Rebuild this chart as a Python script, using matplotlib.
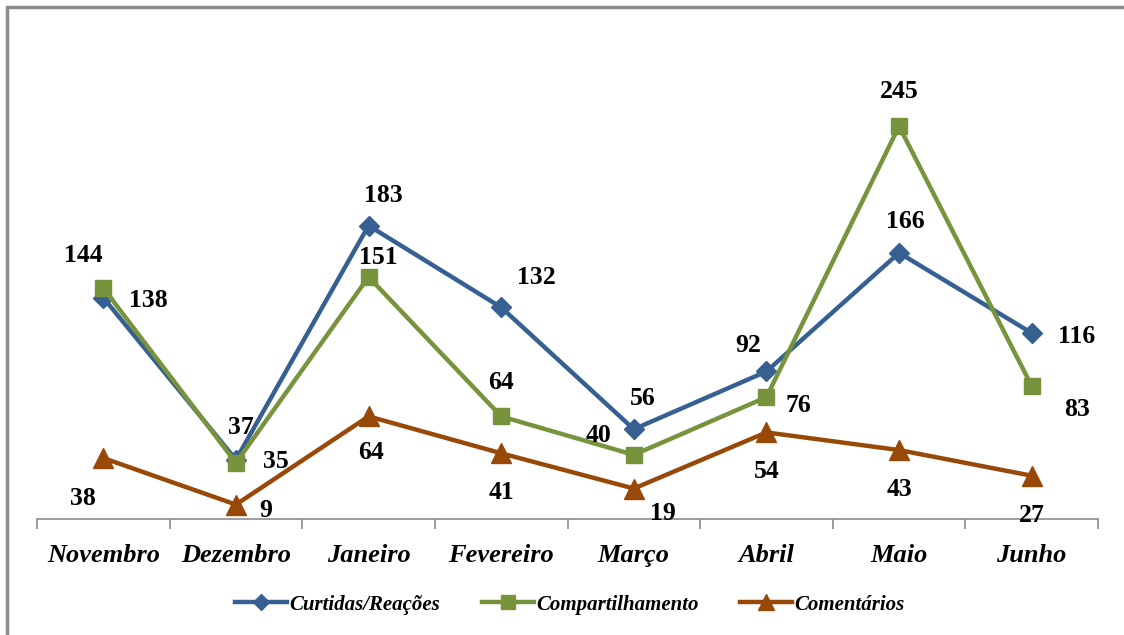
import matplotlib
matplotlib.use("Agg")
import matplotlib.pyplot as plt
from matplotlib.patches import Rectangle

# Dados
meses = ["Novembro", "Dezembro", "Janeiro", "Fevereiro", "Março", "Abril", "Maio", "Junho"]
curtidas = [138, 37, 183, 132, 56, 92, 166, 116]
compartilhamento = [144, 35, 151, 64, 40, 76, 245, 83]
comentarios = [38, 9, 64, 41, 19, 54, 43, 27]

# deslocamento dos rótulos (pixels)
off_curt = [(45, -3), (5, 32), (15, 30), (35, 30), (9, 31), (-18, 26), (6, 31), (45, -3)]
off_comp = [(-20, 33), (40, 1), (10, 19), (0, 34), (-35, 19), (32, -8), (0, 35), (45, -24)]
off_coment = [(-20, -40), (30, -6), (2, -36), (0, -39), (29, -25), (0, -39), (0, -39), (0, -40)]

fig = plt.figure(figsize=(11.24, 6.35), dpi=100)
ax = fig.add_axes([37 / 1124, 116 / 635, 1061 / 1124, 481 / 635])

x = list(range(len(meses)))
series = [
    (curtidas, "Curtidas/Reações", "#376092", "D", 10, off_curt),
    (compartilhamento, "Compartilhamento", "#77933C", "s", 12, off_comp),
    (comentarios, "Comentários", "#984807", "^", 14, off_coment),
]
for vals, nome, cor, mk, ms, offs in series:
    ax.plot(x, vals, color=cor, lw=3.2, marker=mk, markersize=ms, label=nome)
    for xi, v, (dx, dy) in zip(x, vals, offs):
        ax.annotate(str(v), (xi, v), xytext=(dx, dy), textcoords="offset pixels",
                    ha="center", va="center", fontsize=18.5, fontweight="bold",
                    family="Liberation Serif")

ax.set_xlim(-0.5, len(meses) - 0.5)
ax.set_ylim(0, 300)
ax.set_yticks([])
for s in ["top", "right", "left"]:
    ax.spines[s].set_visible(False)
ax.spines["bottom"].set_color("#8c8c8c")
ax.spines["bottom"].set_linewidth(1.2)
ax.set_xticks([i - 0.5 for i in range(len(meses) + 1)], minor=False)
ax.set_xticklabels([])
ax.tick_params(axis="x", which="major", length=7, color="#8c8c8c", width=1.2)
ax.set_xticks(x, minor=True)
ax.set_xticklabels(meses, minor=True, fontsize=19, fontweight="bold", style="italic",
                   family="Liberation Serif")
ax.tick_params(axis="x", which="minor", length=0, pad=18)

leg = fig.legend(loc="center", bbox_to_anchor=(0.507, 0.048), ncol=3, frameon=False,
                 prop={"family": "Liberation Serif", "weight": "bold", "style": "italic", "size": 15},
                 handlelength=2.5, columnspacing=2.0, handletextpad=0.1, markerscale=0.8)

# moldura
fig.patches.append(Rectangle((7 / 1124, -0.1), 1.2, (635 - 7) / 635 + 0.1, transform=fig.transFigure,
                             fill=False, edgecolor="#8c8c8c", lw=2.5))

fig.savefig("out.png", dpi=100)
